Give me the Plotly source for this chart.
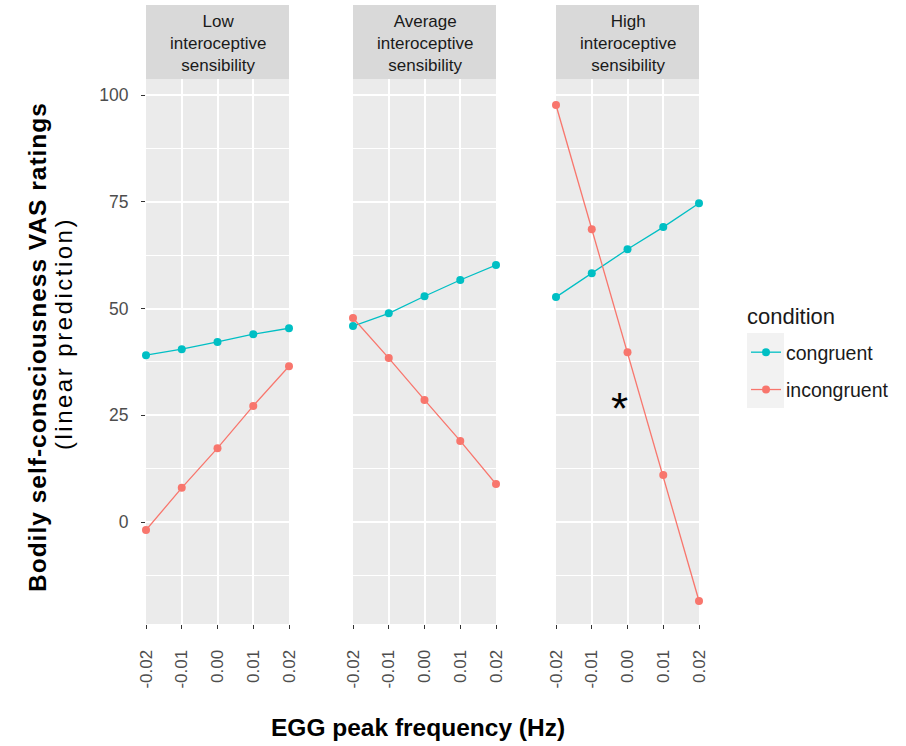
import plotly.graph_objects as go

W, H = 906, 746

freq = [-0.02, -0.01, 0.00, 0.01, 0.02]
freq_labels = ["-0.02", "-0.01", "0.00", "0.01", "0.02"]
panels = ["Low<br>interoceptive<br>sensibility",
          "Average<br>interoceptive<br>sensibility",
          "High<br>interoceptive<br>sensibility"]

congruent_low = [39.1, 40.5, 42.2, 44.0, 45.4]
incongruent_low = [-1.9, 8.0, 17.3, 27.2, 36.5]
congruent_avg = [45.9, 48.9, 52.9, 56.7, 60.2]
incongruent_avg = [47.8, 38.4, 28.6, 19.0, 8.9]
congruent_high = [52.7, 58.3, 63.9, 69.1, 74.7]
incongruent_high = [97.7, 68.6, 39.8, 11.0, -18.5]

y_ticks = [0, 25, 50, 75, 100]
y_range = [-23.9, 103.8]

star_x, star_y = -0.0022, 28.3

COL_CON = "#00BFC4"
COL_INC = "#F8766D"
FONT = "Liberation Sans, Arial, sans-serif"

def px_x(p):
    return p / W

def px_y(p):
    return 1 - p / H

panel_px = [(146, 289), (353, 496), (556, 699)]
y_dom = [px_y(624), px_y(79)]

series = [(congruent_low, incongruent_low),
          (congruent_avg, incongruent_avg),
          (congruent_high, incongruent_high)]

fig = go.Figure()
for i, (con, inc) in enumerate(series):
    ax = "" if i == 0 else str(i + 1)
    for name, vals, col in [("congruent", con, COL_CON), ("incongruent", inc, COL_INC)]:
        fig.add_trace(go.Scatter(
            x=freq, y=vals, mode="lines+markers", name=name,
            legendgroup=name, showlegend=(i == 0),
            line=dict(color=col, width=1.3),
            marker=dict(color=col, size=8),
            cliponaxis=False,
            xaxis="x" + ax, yaxis="y" + ax,
        ))

layout = dict(
    width=W, height=H,
    margin=dict(l=0, r=0, t=0, b=0, autoexpand=False),
    paper_bgcolor="white", plot_bgcolor="#EBEBEB",
    font=dict(family=FONT, color="#4D4D4D"),
    showlegend=True,
    legend=dict(
        x=px_x(746), y=px_y(333), xanchor="left", yanchor="top",
        bgcolor="rgba(0,0,0,0)",
        font=dict(size=19.5, color="#1A1A1A", family=FONT),
        tracegroupgap=9, itemwidth=30,
    ),
)

for i, (x0, x1) in enumerate(panel_px):
    ax = "" if i == 0 else str(i + 1)
    layout["xaxis" + ax] = dict(
        domain=[px_x(x0), px_x(x1)], range=[-0.02, 0.02], automargin=False,
        anchor="y" + ax, tickvals=freq, ticktext=freq_labels, tickangle=-90,
        ticks="outside", ticklen=4, tickwidth=1.2, tickcolor="#333333",
        ticklabelstandoff=14,
        tickfont=dict(size=17, color="#4D4D4D", family=FONT),
        showgrid=True, gridcolor="white", gridwidth=1.8,
        zeroline=False, showline=False, fixedrange=True,
    )
    layout["yaxis" + ax] = dict(
        domain=y_dom, range=y_range, anchor="x" + ax, automargin=False,
        tickvals=y_ticks, ticktext=[str(v) for v in y_ticks],
        showticklabels=(i == 0),
        ticks="outside" if i == 0 else "", ticklen=4, tickwidth=1.2, tickcolor="#333333",
        ticklabelstandoff=9,
        tickfont=dict(size=17.5, color="#4D4D4D", family=FONT),
        showgrid=True, gridcolor="white", gridwidth=1.8,
        minor=dict(dtick=12.5, tick0=0, showgrid=True, gridcolor="white", gridwidth=0.9, ticks=""),
        zeroline=False, showline=False, fixedrange=True,
    )

shapes = []
annotations = []
for i, (x0, x1) in enumerate(panel_px):
    shapes.append(dict(type="rect", xref="paper", yref="paper",
                       x0=px_x(x0), x1=px_x(x1), y0=px_y(79), y1=px_y(5),
                       fillcolor="#D9D9D9", line=dict(width=0), layer="below"))
    annotations.append(dict(text=panels[i], xref="paper", yref="paper",
                            x=px_x((x0 + x1) / 2), y=px_y(43), xanchor="center", yanchor="middle",
                            showarrow=False, align="center",
                            font=dict(size=17, color="#1A1A1A", family=FONT)))

# legend key background
shapes.append(dict(type="rect", xref="paper", yref="paper",
                   x0=px_x(747), x1=px_x(784), y0=px_y(408), y1=px_y(333),
                   fillcolor="#F2F2F2", line=dict(width=0), layer="below"))

annotations.append(dict(text="condition", xref="paper", yref="paper",
                        x=px_x(745), y=px_y(316), xanchor="left", yanchor="middle",
                        showarrow=False, font=dict(size=22, color="#1A1A1A", family=FONT)))
annotations.append(dict(text="<b>EGG peak frequency (Hz)</b>", xref="paper", yref="paper",
                        x=px_x(418), y=px_y(727), xanchor="center", yanchor="middle",
                        showarrow=False, font=dict(size=24.5, color="#000000", family=FONT)))
annotations.append(dict(text="<b><span style='letter-spacing:1px'>Bodily self-consciousness VAS ratings</span></b>",
                        xref="paper", yref="paper",
                        x=px_x(37), y=px_y(347), xanchor="center", yanchor="middle", textangle=-90,
                        showarrow=False, font=dict(size=24.5, color="#000000", family=FONT)))
annotations.append(dict(text="<span style='letter-spacing:2.5px'>(linear prediction)</span>",
                        xref="paper", yref="paper",
                        x=px_x(63), y=px_y(333), xanchor="center", yanchor="middle", textangle=-90,
                        showarrow=False, font=dict(size=24, color="#000000", family=FONT)))
annotations.append(dict(text="*", xref="x3", yref="y3", x=star_x, y=star_y,
                        xanchor="center", yanchor="middle", yshift=-7,
                        showarrow=False, font=dict(size=44, color="#000000", family=FONT)))

layout["shapes"] = shapes
layout["annotations"] = annotations
fig.update_layout(**layout)

fig.write_html("out.html")
